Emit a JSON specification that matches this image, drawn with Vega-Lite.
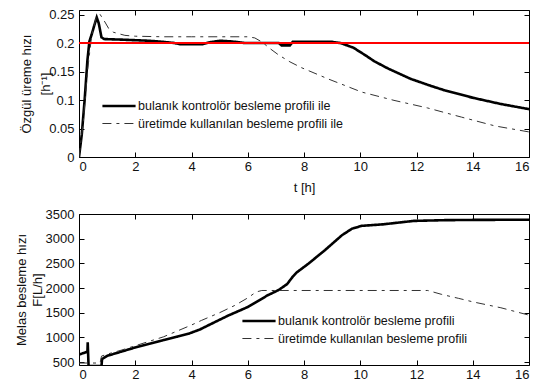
{
  "$schema": "https://vega.github.io/schema/vega-lite/v6.json",
  "autosize": {"type": "pad"},
  "padding": {"left": 14, "top": 8, "right": 0, "bottom": 0},
  "spacing": 57,
  "bounds": "flush",
  "background": "white",
  "resolve": {
    "scale": {"color": "independent", "strokeDash": "independent", "strokeWidth": "independent"},
    "legend": {"color": "independent", "strokeDash": "independent", "strokeWidth": "independent"}
  },
  "config": {
    "font": "Liberation Sans",
    "view": {"stroke": "#000", "strokeWidth": 1},
    "axis": {
      "grid": false,
      "domain": false,
      "tickColor": "#000",
      "tickSize": -5,
      "labelFont": "Liberation Sans",
      "labelFontSize": 13,
      "labelColor": "#111",
      "titleFont": "Liberation Sans",
      "titleFontSize": 13,
      "titleFontWeight": "normal",
      "titleColor": "#111"
    },
    "axisX": {"labelPadding": 8, "titlePadding": 8},
    "axisY": {"labelPadding": 10},
    "legend": {
      "orient": "none",
      "padding": 0,
      "symbolType": "stroke",
      "symbolSize": 1100,
      "labelFont": "Liberation Sans",
      "labelFontSize": 12.5,
      "labelColor": "#111",
      "labelOffset": 1,
      "labelLimit": 0,
      "clipHeight": 14,
      "rowPadding": 3.5
    }
  },
  "datasets": {
    "mu": [
      {"t": 0, "v": 0, "series": "bulanık kontrolör besleme profili ile"},
      {"t": 0.1, "v": 0.04, "series": "bulanık kontrolör besleme profili ile"},
      {"t": 0.2, "v": 0.1, "series": "bulanık kontrolör besleme profili ile"},
      {"t": 0.3, "v": 0.17, "series": "bulanık kontrolör besleme profili ile"},
      {"t": 0.37, "v": 0.203, "series": "bulanık kontrolör besleme profili ile"},
      {"t": 0.45, "v": 0.215, "series": "bulanık kontrolör besleme profili ile"},
      {"t": 0.55, "v": 0.232, "series": "bulanık kontrolör besleme profili ile"},
      {"t": 0.63, "v": 0.245, "series": "bulanık kontrolör besleme profili ile"},
      {"t": 0.7, "v": 0.235, "series": "bulanık kontrolör besleme profili ile"},
      {"t": 0.8, "v": 0.21, "series": "bulanık kontrolör besleme profili ile"},
      {"t": 0.9, "v": 0.207, "series": "bulanık kontrolör besleme profili ile"},
      {"t": 1.5, "v": 0.206, "series": "bulanık kontrolör besleme profili ile"},
      {"t": 2, "v": 0.205, "series": "bulanık kontrolör besleme profili ile"},
      {"t": 2.5, "v": 0.204, "series": "bulanık kontrolör besleme profili ile"},
      {"t": 3, "v": 0.202, "series": "bulanık kontrolör besleme profili ile"},
      {"t": 3.4, "v": 0.2, "series": "bulanık kontrolör besleme profili ile"},
      {"t": 3.6, "v": 0.198, "series": "bulanık kontrolör besleme profili ile"},
      {"t": 4.4, "v": 0.198, "series": "bulanık kontrolör besleme profili ile"},
      {"t": 4.6, "v": 0.201, "series": "bulanık kontrolör besleme profili ile"},
      {"t": 5, "v": 0.204, "series": "bulanık kontrolör besleme profili ile"},
      {"t": 5.4, "v": 0.203, "series": "bulanık kontrolör besleme profili ile"},
      {"t": 5.9, "v": 0.2, "series": "bulanık kontrolör besleme profili ile"},
      {"t": 7.1, "v": 0.2, "series": "bulanık kontrolör besleme profili ile"},
      {"t": 7.2, "v": 0.196, "series": "bulanık kontrolör besleme profili ile"},
      {"t": 7.5, "v": 0.196, "series": "bulanık kontrolör besleme profili ile"},
      {"t": 7.6, "v": 0.202, "series": "bulanık kontrolör besleme profili ile"},
      {"t": 9, "v": 0.202, "series": "bulanık kontrolör besleme profili ile"},
      {"t": 9.3, "v": 0.2, "series": "bulanık kontrolör besleme profili ile"},
      {"t": 9.75, "v": 0.192, "series": "bulanık kontrolör besleme profili ile"},
      {"t": 10.2, "v": 0.178, "series": "bulanık kontrolör besleme profili ile"},
      {"t": 10.5, "v": 0.168, "series": "bulanık kontrolör besleme profili ile"},
      {"t": 11, "v": 0.155, "series": "bulanık kontrolör besleme profili ile"},
      {"t": 11.8, "v": 0.137, "series": "bulanık kontrolör besleme profili ile"},
      {"t": 12.5, "v": 0.125, "series": "bulanık kontrolör besleme profili ile"},
      {"t": 13, "v": 0.117, "series": "bulanık kontrolör besleme profili ile"},
      {"t": 14, "v": 0.104, "series": "bulanık kontrolör besleme profili ile"},
      {"t": 15, "v": 0.093, "series": "bulanık kontrolör besleme profili ile"},
      {"t": 16, "v": 0.084, "series": "bulanık kontrolör besleme profili ile"},
      {"t": 0, "v": 0, "series": "üretimde kullanılan besleme profili ile"},
      {"t": 0.15, "v": 0.06, "series": "üretimde kullanılan besleme profili ile"},
      {"t": 0.3, "v": 0.15, "series": "üretimde kullanılan besleme profili ile"},
      {"t": 0.45, "v": 0.213, "series": "üretimde kullanılan besleme profili ile"},
      {"t": 0.6, "v": 0.243, "series": "üretimde kullanılan besleme profili ile"},
      {"t": 0.74, "v": 0.251, "series": "üretimde kullanılan besleme profili ile"},
      {"t": 0.92, "v": 0.237, "series": "üretimde kullanılan besleme profili ile"},
      {"t": 1.05, "v": 0.226, "series": "üretimde kullanılan besleme profili ile"},
      {"t": 1.22, "v": 0.219, "series": "üretimde kullanılan besleme profili ile"},
      {"t": 1.63, "v": 0.2135, "series": "üretimde kullanılan besleme profili ile"},
      {"t": 2, "v": 0.212, "series": "üretimde kullanılan besleme profili ile"},
      {"t": 3, "v": 0.211, "series": "üretimde kullanılan besleme profili ile"},
      {"t": 4, "v": 0.211, "series": "üretimde kullanılan besleme profili ile"},
      {"t": 5, "v": 0.211, "series": "üretimde kullanılan besleme profili ile"},
      {"t": 6, "v": 0.211, "series": "üretimde kullanılan besleme profili ile"},
      {"t": 6.25, "v": 0.209, "series": "üretimde kullanılan besleme profili ile"},
      {"t": 6.5, "v": 0.202, "series": "üretimde kullanılan besleme profili ile"},
      {"t": 6.8, "v": 0.19, "series": "üretimde kullanılan besleme profili ile"},
      {"t": 7.1, "v": 0.179, "series": "üretimde kullanılan besleme profili ile"},
      {"t": 7.5, "v": 0.167, "series": "üretimde kullanılan besleme profili ile"},
      {"t": 7.9, "v": 0.157, "series": "üretimde kullanılan besleme profili ile"},
      {"t": 8.86, "v": 0.137, "series": "üretimde kullanılan besleme profili ile"},
      {"t": 10.05, "v": 0.114, "series": "üretimde kullanılan besleme profili ile"},
      {"t": 11.2, "v": 0.0994, "series": "üretimde kullanılan besleme profili ile"},
      {"t": 12.4, "v": 0.086, "series": "üretimde kullanılan besleme profili ile"},
      {"t": 13.6, "v": 0.07, "series": "üretimde kullanılan besleme profili ile"},
      {"t": 14.8, "v": 0.0544, "series": "üretimde kullanılan besleme profili ile"},
      {"t": 16, "v": 0.044, "series": "üretimde kullanılan besleme profili ile"}
    ],
    "feed": [
      {"t": 0, "v": 650, "series": "bulanık kontrolör besleme profili"},
      {"t": 0.3, "v": 710, "series": "bulanık kontrolör besleme profili"},
      {"t": 0.31, "v": 900, "series": "bulanık kontrolör besleme profili"},
      {"t": 0.34, "v": 420, "series": "bulanık kontrolör besleme profili"},
      {"t": 0.8, "v": 420, "series": "bulanık kontrolör besleme profili"},
      {"t": 0.82, "v": 560, "series": "bulanık kontrolör besleme profili"},
      {"t": 1, "v": 625, "series": "bulanık kontrolör besleme profili"},
      {"t": 1.5, "v": 710, "series": "bulanık kontrolör besleme profili"},
      {"t": 2, "v": 795, "series": "bulanık kontrolör besleme profili"},
      {"t": 2.5, "v": 870, "series": "bulanık kontrolör besleme profili"},
      {"t": 3, "v": 945, "series": "bulanık kontrolör besleme profili"},
      {"t": 3.5, "v": 1015, "series": "bulanık kontrolör besleme profili"},
      {"t": 3.9, "v": 1075, "series": "bulanık kontrolör besleme profili"},
      {"t": 4.3, "v": 1160, "series": "bulanık kontrolör besleme profili"},
      {"t": 4.6, "v": 1245, "series": "bulanık kontrolör besleme profili"},
      {"t": 5.3, "v": 1440, "series": "bulanık kontrolör besleme profili"},
      {"t": 6, "v": 1615, "series": "bulanık kontrolör besleme profili"},
      {"t": 6.7, "v": 1850, "series": "bulanık kontrolör besleme profili"},
      {"t": 7.1, "v": 1960, "series": "bulanık kontrolör besleme profili"},
      {"t": 7.4, "v": 2080, "series": "bulanık kontrolör besleme profili"},
      {"t": 7.6, "v": 2230, "series": "bulanık kontrolör besleme profili"},
      {"t": 7.75, "v": 2320, "series": "bulanık kontrolör besleme profili"},
      {"t": 8.15, "v": 2490, "series": "bulanık kontrolör besleme profili"},
      {"t": 8.75, "v": 2770, "series": "bulanık kontrolör besleme profili"},
      {"t": 9.35, "v": 3070, "series": "bulanık kontrolör besleme profili"},
      {"t": 9.7, "v": 3200, "series": "bulanık kontrolör besleme profili"},
      {"t": 10.05, "v": 3260, "series": "bulanık kontrolör besleme profili"},
      {"t": 10.8, "v": 3290, "series": "bulanık kontrolör besleme profili"},
      {"t": 11.9, "v": 3360, "series": "bulanık kontrolör besleme profili"},
      {"t": 13, "v": 3375, "series": "bulanık kontrolör besleme profili"},
      {"t": 14, "v": 3380, "series": "bulanık kontrolör besleme profili"},
      {"t": 16, "v": 3385, "series": "bulanık kontrolör besleme profili"},
      {"t": 0, "v": 480, "series": "üretimde kullanılan besleme profili"},
      {"t": 0.75, "v": 480, "series": "üretimde kullanılan besleme profili"},
      {"t": 0.8, "v": 620, "series": "üretimde kullanılan besleme profili"},
      {"t": 1, "v": 660, "series": "üretimde kullanılan besleme profili"},
      {"t": 1.5, "v": 740, "series": "üretimde kullanılan besleme profili"},
      {"t": 2, "v": 830, "series": "üretimde kullanılan besleme profili"},
      {"t": 2.5, "v": 920, "series": "üretimde kullanılan besleme profili"},
      {"t": 3, "v": 1010, "series": "üretimde kullanılan besleme profili"},
      {"t": 3.5, "v": 1130, "series": "üretimde kullanılan besleme profili"},
      {"t": 4, "v": 1250, "series": "üretimde kullanılan besleme profili"},
      {"t": 4.36, "v": 1345, "series": "üretimde kullanılan besleme profili"},
      {"t": 5, "v": 1500, "series": "üretimde kullanılan besleme profili"},
      {"t": 5.55, "v": 1650, "series": "üretimde kullanılan besleme profili"},
      {"t": 6, "v": 1800, "series": "üretimde kullanılan besleme profili"},
      {"t": 6.3, "v": 1920, "series": "üretimde kullanılan besleme profili"},
      {"t": 6.5, "v": 1950, "series": "üretimde kullanılan besleme profili"},
      {"t": 12.4, "v": 1950, "series": "üretimde kullanılan besleme profili"},
      {"t": 12.9, "v": 1870, "series": "üretimde kullanılan besleme profili"},
      {"t": 13.5, "v": 1790, "series": "üretimde kullanılan besleme profili"},
      {"t": 14, "v": 1720, "series": "üretimde kullanılan besleme profili"},
      {"t": 15, "v": 1600, "series": "üretimde kullanılan besleme profili"},
      {"t": 16, "v": 1450, "series": "üretimde kullanılan besleme profili"}
    ]
  },
  "vconcat": [
    {
      "width": 450,
      "height": 147,
      "data": {"name": "mu"},
      "resolve": {"axis": {"x": "independent", "y": "independent"}},
      "layer": [
        {
          "mark": {"type": "line", "clip": true},
          "encoding": {
            "x": {"field": "t", "type": "quantitative", "scale": {"domain": [0, 16], "nice": false},
                  "axis": {"orient": "bottom", "values": [0, 2, 4, 6, 8, 10, 12, 14, 16], "title": "t [h]"}},
            "y": {"field": "v", "type": "quantitative", "scale": {"domain": [0, 0.258], "nice": false, "zero": false},
                  "axis": {"orient": "left", "values": [0, 0.05, 0.1, 0.15, 0.2, 0.25], "format": ".2~f", "titlePadding": -4, "titleLineHeight": 19, "title": ["Özgül üreme hızı", "[h⁻¹]"]}},
            "color": {"field": "series", "type": "nominal", "scale": {"domain": ["bulanık kontrolör besleme profili ile", "üretimde kullanılan besleme profili ile"], "range": ["#000000", "#333333"]},
                      "legend": {"title": null, "legendX": 22, "legendY": 89}},
            "strokeDash": {"field": "series", "type": "nominal", "scale": {"domain": ["bulanık kontrolör besleme profili ile", "üretimde kullanılan besleme profili ile"], "range": [[1, 0], [9, 5, 3, 5]]},
                           "legend": {"title": null, "legendX": 22, "legendY": 89}},
            "strokeWidth": {"field": "series", "type": "nominal", "scale": {"domain": ["bulanık kontrolör besleme profili ile", "üretimde kullanılan besleme profili ile"], "range": [2.6, 1]},
                            "legend": {"title": null, "legendX": 22, "legendY": 89}}
          }
        },
        {
          "mark": {"type": "point", "opacity": 0},
          "encoding": {
            "x": {"field": "t", "type": "quantitative", "scale": {"domain": [0, 16], "nice": false},
                  "axis": {"orient": "top", "values": [0, 2, 4, 6, 8, 10, 12, 14, 16], "labels": false, "title": null}},
            "y": {"field": "v", "type": "quantitative", "scale": {"domain": [0, 0.258], "nice": false, "zero": false},
                  "axis": {"orient": "right", "values": [0, 0.05, 0.1, 0.15, 0.2, 0.25], "labels": false, "title": null}}
          }
        },
        {
          "mark": {"type": "rule", "color": "#ff0000", "strokeWidth": 2},
          "encoding": {
            "y": {"datum": 0.2, "type": "quantitative", "axis": null}
          }
        }
      ]
    },
    {
      "width": 450,
      "height": 151,
      "data": {"name": "feed"},
      "resolve": {"axis": {"x": "independent", "y": "independent"}},
      "layer": [
        {
          "mark": {"type": "line", "clip": true},
          "encoding": {
            "x": {"field": "t", "type": "quantitative", "scale": {"domain": [0, 16], "nice": false},
                  "axis": {"orient": "bottom", "values": [0, 2, 4, 6, 8, 10, 12, 14, 16], "title": null}},
            "y": {"field": "v", "type": "quantitative", "scale": {"domain": [440, 3500], "nice": false, "zero": false},
                  "axis": {"orient": "left", "values": [500, 1000, 1500, 2000, 2500, 3000, 3500], "format": "d", "titlePadding": 1, "titleLineHeight": 16, "title": ["Melas besleme hızı", "F[L/h]"]}},
            "color": {"field": "series", "type": "nominal", "scale": {"domain": ["bulanık kontrolör besleme profili", "üretimde kullanılan besleme profili"], "range": ["#000000", "#333333"]},
                      "legend": {"title": null, "legendX": 162, "legendY": 100}},
            "strokeDash": {"field": "series", "type": "nominal", "scale": {"domain": ["bulanık kontrolör besleme profili", "üretimde kullanılan besleme profili"], "range": [[1, 0], [9, 5, 3, 5]]},
                           "legend": {"title": null, "legendX": 162, "legendY": 100}},
            "strokeWidth": {"field": "series", "type": "nominal", "scale": {"domain": ["bulanık kontrolör besleme profili", "üretimde kullanılan besleme profili"], "range": [2.6, 1]},
                            "legend": {"title": null, "legendX": 162, "legendY": 100}}
          }
        },
        {
          "mark": {"type": "point", "opacity": 0},
          "encoding": {
            "x": {"field": "t", "type": "quantitative", "scale": {"domain": [0, 16], "nice": false},
                  "axis": {"orient": "top", "values": [0, 2, 4, 6, 8, 10, 12, 14, 16], "labels": false, "title": null}},
            "y": {"field": "v", "type": "quantitative", "scale": {"domain": [440, 3500], "nice": false, "zero": false},
                  "axis": {"orient": "right", "values": [500, 1000, 1500, 2000, 2500, 3000, 3500], "labels": false, "title": null}}
          }
        }
      ]
    }
  ]
}
